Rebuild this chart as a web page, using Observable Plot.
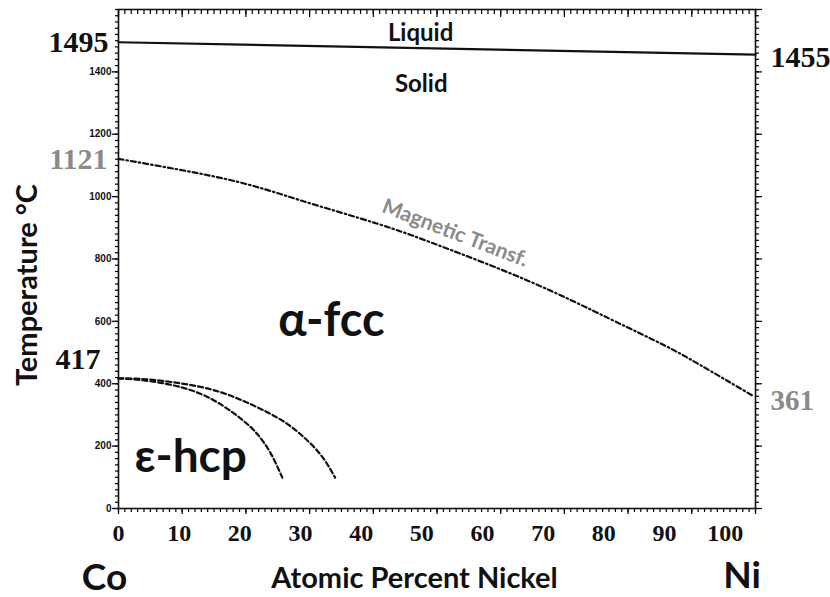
<!DOCTYPE html>
<html><head><meta charset="utf-8">
<script src="https://cdn.jsdelivr.net/npm/d3@7"></script>
<script src="https://cdn.jsdelivr.net/npm/@observablehq/plot@0.6"></script>
<style>body{margin:0;background:#fff} svg{display:block}</style>
</head><body><div id="chart"></div>
<script>
// ---- data ----
const xTicks = [0,10,20,30,40,50,60,70,80,90,100];
const yTicks = [0,200,400,600,800,1000,1200,1400];
const liquidusX = [0, 105];
const liquidusT = [1495, 1455];
const magX = [0,18,30,42.7,53,67.9,81,89.8,95.9,104.6];
const magT = [1121,1055,988,913,842,727,608,525,460,361];
const hcpOuterX = [0,5.3,13.5,20.1,26.2,30,33.3,35.7];
const hcpOuterT = [417,413,390,349,291,238,173,99];
const hcpInnerX = [0,5.3,13.5,20.1,22.9,25,27];
const hcpInnerT = [417,408,368,289,238,180,99];
const leftBlack = [1495];
const leftGrey = [1121];
const leftLow = [417];
const rightBlack = [1455];
const rightGrey = [361];

// frame tick positions (original frame had 100 minor divisions)
const minorX = d3.range(0, 105.001, 1.05);
const majorX = d3.range(0, 105.001, 10.5);
const minorY = d3.range(0, 1600.001, 20);
const majorY = d3.range(0, 1600.001, 200);

const zip = (xs, ys) => xs.map((x, i) => ({x, t: ys[i]}));
const SANS = "Lato, 'Open Sans', sans-serif";
const SERIF = "'Liberation Serif', serif";
const GREY = "#8a8a8a";
const noText = () => null;
const tk = {tickFormat: noText, label: null, strokeWidth: 1.2, stroke: "#000"};

const plot = Plot.plot({
  width: 830, height: 597,
  marginLeft: 118, marginRight: 75, marginTop: 9, marginBottom: 89,
  x: {domain: [0, 105], label: null},
  y: {domain: [0, 1600], label: null},
  style: {background: "white", overflow: "visible", color: "#111"},
  marks: [
    Plot.frame({stroke: "#111", strokeWidth: 1.6, fill: "none"}),
    // frame ticks drawn as axis ticks
    Plot.axisX(minorX, {anchor: "bottom", tickSize: 4, ...tk}),
    Plot.axisX(majorX, {anchor: "bottom", tickSize: 6, ...tk}),
    Plot.axisX(minorX, {anchor: "top", tickSize: -4, ...tk}),
    Plot.axisX(majorX, {anchor: "top", tickSize: -7, ...tk}),
    Plot.axisY(minorY, {anchor: "left", tickSize: 3, ...tk}),
    Plot.axisY(minorY, {anchor: "right", tickSize: 3, ...tk}),
    Plot.axisY(majorY, {anchor: "right", tickSize: 6, ...tk}),
    // small original y tick labels
    Plot.axisY(yTicks, {anchor: "left", tickSize: 6, tickPadding: 1, fontSize: 10,
      tickFormat: d => String(d),
      fontWeight: "bold", fontFamily: "'Liberation Sans', sans-serif", strokeWidth: 1.4, label: null}),
    // big bold x tick labels
    Plot.axisX(xTicks, {anchor: "bottom", tickSize: 0, tickPadding: 15, fontSize: 24,
      fontWeight: "bold", fontFamily: SERIF, label: null}),
    // phase boundaries
    Plot.line(zip(liquidusX, liquidusT), {x: "x", y: "t", stroke: "#111", strokeWidth: 2.2}),
    Plot.line(zip(magX, magT), {x: "x", y: "t", stroke: "#111", strokeWidth: 2.2,
      strokeDasharray: "5,3,1.5,3", curve: "natural"}),
    Plot.line(zip(hcpOuterX, hcpOuterT), {x: "x", y: "t", stroke: "#111", strokeWidth: 2.2,
      strokeDasharray: "5,3", curve: "natural"}),
    Plot.line(zip(hcpInnerX, hcpInnerT), {x: "x", y: "t", stroke: "#111", strokeWidth: 2.2,
      strokeDasharray: "5,3", curve: "natural"}),
    // value labels
    Plot.text(leftBlack, {x: 0, y: d => d, text: d => String(d), textAnchor: "end", dx: -10,
      fontSize: 30, fontWeight: "bold", fontFamily: SERIF, fill: "#111"}),
    Plot.text(leftGrey, {x: 0, y: d => d, text: d => String(d), textAnchor: "end", dx: -11, dy: 1,
      fontSize: 30, fontWeight: "bold", fontFamily: SERIF, fill: GREY}),
    Plot.text(leftLow, {x: 0, y: d => d, text: d => String(d), textAnchor: "end", dx: -18, dy: -19,
      fontSize: 30, fontWeight: "bold", fontFamily: SERIF, fill: "#111"}),
    Plot.text(rightBlack, {x: 105, y: d => d, text: d => String(d), textAnchor: "start", dx: 15, dy: 3,
      fontSize: 30, fontWeight: "bold", fontFamily: SERIF, fill: "#111"}),
    Plot.text(rightGrey, {x: 105, y: d => d, text: d => String(d), textAnchor: "start", dx: 15, dy: 5,
      fontSize: 29, fontWeight: "bold", fontFamily: SERIF, fill: GREY}),
    // region labels
    Plot.text([{label: "Liquid", x: 49.8, t: 1523}], {x: "x", y: "t", text: "label",
      fontSize: 24, fontWeight: "bold", fontFamily: SANS, fill: "#111"}),
    Plot.text([{label: "Solid", x: 49.9, t: 1360}], {x: "x", y: "t", text: "label",
      fontSize: 24, fontWeight: "bold", fontFamily: SANS, fill: "#111"}),
    Plot.text([{label: "α-fcc", x: 35.1, t: 600}], {x: "x", y: "t", text: "label",
      fontSize: 47, fontWeight: "bold", fontFamily: SANS, fill: "#111"}),
    Plot.text([{label: "ε-hcp", x: 11.9, t: 165}], {x: "x", y: "t", text: "label",
      fontSize: 46, fontWeight: "bold", fontFamily: SANS, fill: "#111"}),
    Plot.text([{label: "Magnetic Transf.", x: 55.5, t: 883}], {x: "x", y: "t", text: "label", rotate: 21,
      fontSize: 21, fontWeight: "bold", fontFamily: SANS, fill: GREY}),
    // axis titles / element names
    Plot.text(["Temperature °C"], {frameAnchor: "left", textAnchor: "middle", text: d => d, rotate: -90,
      dx: -91, dy: 26, fontSize: 29, fontWeight: "bold", fontFamily: SANS, fill: "#111"}),
    Plot.text([{label: "Atomic Percent Nickel", x: 48.8, t: 0}], {x: "x", y: "t", text: "label", dy: 70,
      fontSize: 29, fontWeight: "bold", fontFamily: SANS, fill: "#111"}),
    Plot.text([{label: "Co", x: 0, t: 0}], {x: "x", y: "t", text: "label", dx: -14, dy: 70,
      fontSize: 37, fontWeight: "bold", fontFamily: SANS, fill: "#111"}),
    Plot.text([{label: "Ni", x: 100, t: 0}], {x: "x", y: "t", text: "label", dx: 17, dy: 68,
      fontSize: 37, fontWeight: "bold", fontFamily: SANS, fill: "#111"})
  ]
});
document.getElementById("chart").appendChild(plot);
</script>
</body></html>
